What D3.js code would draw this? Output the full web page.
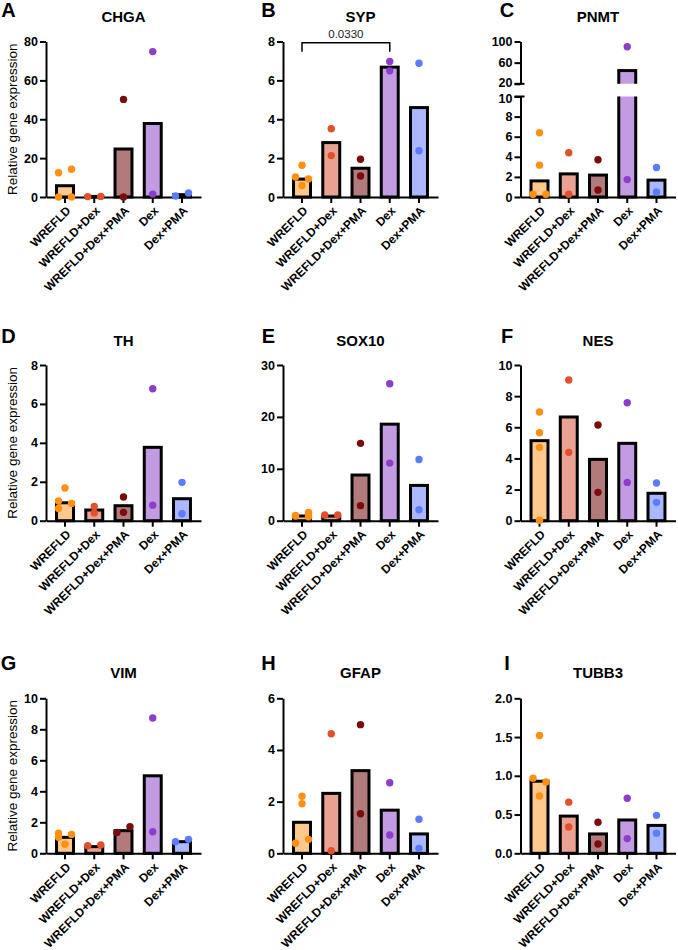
<!DOCTYPE html>
<html><head><meta charset="utf-8">
<script src="https://cdn.jsdelivr.net/npm/d3@7"></script>
<style>body{margin:0;background:#fff}svg{display:block}text{font-family:"Liberation Sans",Arial,sans-serif}</style>
</head><body>
<script>
const groups = ["WREFLD","WREFLD+Dex","WREFLD+Dex+PMA","Dex","Dex+PMA"];
const fillColors = ["#FFC88C","#E9A291","#B27B7B","#C39BE2","#AAB9FF"];
const dotColors = ["#FF9012","#E1502B","#7A0C0C","#8C3ECB","#5C7CFF"];
const genes = ["CHGA","SYP","PNMT","TH","SOX10","NES","VIM","GFAP","TUBB3"];
const letters = ["A","B","C","D","E","F","G","H","I"];
const yTitle = "Relative gene expression";

const barCHGA = [5.8, 0.3, 24.7, 37.8, 1.2];
const ptsCHGA = [[12.5,14.3,0,0],[0.2,0.3],[50.2,0],[74.8,1.5],[0.5,2.1]];
const ticksCHGA = [0,20,40,60,80];

const barSYP = [0.92, 2.8, 1.48, 6.68, 4.6];
const ptsSYP = [[1.63,1.03,0.93,0.59],[3.51,2.13],[1.94,1.08],[6.97,6.49],[6.88,2.38]];
const ticksSYP = [0,2,4,6,8];

const barPNMT = [1.6, 2.3, 2.18, 45, 1.68];
const ptsPNMT = [[6.4,3.17,0.27,0.27],[4.4,0.27],[3.7,0.7],[90,1.73],[2.93,0.5]];
const ticksPNMTlow = [0,2,4,6,8,10];
const ticksPNMThigh = [20,60,100];

const barTH = [0.92, 0.55, 0.77, 3.77, 1.13];
const ptsTH = [[1.68,1.01,0.89,0.63],[0.73,0.40],[1.22,0.43],[6.78,0.8],[1.97,0.36]];
const ticksTH = [0,2,4,6,8];

const barSOX10 = [0.9, 0.9, 8.8, 18.6, 6.8];
const ptsSOX10 = [[0.9,1.6,1.0,0.75],[1.1,1.1],[14.9,2.9],[26.4,11.1],[11.8,2.1]];
const ticksSOX10 = [0,10,20,30];

const barNES = [5.14, 6.66, 3.94, 4.97, 1.76];
const ptsNES = [[6.98,5.65,4.71,0.03],[9.04,4.39],[6.15,1.82],[7.58,2.46],[2.42,1.18]];
const ticksNES = [0,2,4,6,8,10];

const barVIM = [1.03, 0.43, 1.46, 5.0, 0.75];
const ptsVIM = [[1.29,1.22,1.03,0.58],[0.49,0.54],[1.35,1.72],[8.73,1.39],[0.75,0.9]];
const ticksVIM = [0,2,4,6,8,10];

const barGFAP = [1.2, 2.32, 3.2, 1.67, 0.75];
const ptsGFAP = [[2.21,1.92,0.39,0.54],[4.63,0.1],[4.98,1.53],[2.73,0.71],[1.32,0.19]];
const ticksGFAP = [0,2,4,6];

const barTUBB3 = [0.93, 0.48, 0.25, 0.43, 0.36];
const ptsTUBB3 = [[1.52,0.97,0.92,0.74],[0.66,0.34],[0.4,0.12],[0.71,0.19],[0.49,0.26]];
const ticksTUBB3 = [0,0.5,1.0,1.5,2.0];

const sigLabel = "0.0330";

const panels = [
  {bars:barCHGA, pts:ptsCHGA, ticks:ticksCHGA},
  {bars:barSYP, pts:ptsSYP, ticks:ticksSYP, sig:[0,3,sigLabel]},
  {bars:barPNMT, pts:ptsPNMT, ticks:ticksPNMTlow, upperTicks:ticksPNMThigh},
  {bars:barTH, pts:ptsTH, ticks:ticksTH},
  {bars:barSOX10, pts:ptsSOX10, ticks:ticksSOX10},
  {bars:barNES, pts:ptsNES, ticks:ticksNES},
  {bars:barVIM, pts:ptsVIM, ticks:ticksVIM},
  {bars:barGFAP, pts:ptsGFAP, ticks:ticksGFAP},
  {bars:barTUBB3, pts:ptsTUBB3, ticks:ticksTUBB3, fmt:".1f"}
];

const W = 678, H = 950;
const svg = d3.select("body").append("svg").attr("width", W).attr("height", H);
const colX = [46, 283, 520.5];
const rowTop = [41.5, 365, 698.3];
const rowBot = [197, 520.7, 853.3];
const letterX = [8.5, 268.5, 507];
const letterY = [17, 343, 670];
const titleY = [21.5, 345.5, 677.5];
const R = 3.7, DX = 6.5;
const FONT = '"Liberation Sans", Arial, sans-serif';

panels.forEach((p, i) => {
  const col = i % 3, row = Math.floor(i / 3);
  const ox = colX[col], top = rowTop[row], bot = rowBot[row];
  const g = svg.append("g");
  const fmt = p.fmt ? d3.format(p.fmt) : d3.format("d");
  const x = d3.scaleBand().domain(groups).range([ox, ox + 155]).paddingInner(0.42).paddingOuter(0.36);
  const cx = k => x(groups[k]) + x.bandwidth() / 2;

  let segs;
  if (p.upperTicks) {
    const upperH = 42.3, gap = 12.7;
    const lowTop = top + upperH + gap;
    segs = [
      {y: d3.scaleLinear().domain(d3.extent(p.ticks)).range([bot, lowTop]), ticks: p.ticks, clip: [lowTop, bot + 30], upper: false, nudge: 1.5},
      {y: d3.scaleLinear().domain(d3.extent(p.upperTicks)).range([top + upperH, top]), ticks: p.upperTicks, clip: [0, top + upperH], upper: true, nudge: -1.5}
    ];
  } else {
    segs = [{y: d3.scaleLinear().domain(d3.extent(p.ticks)).range([bot, top]), ticks: p.ticks, clip: [0, bot + 30], upper: false, nudge: 0}];
  }
  const segFor = v => (segs.length > 1 && v > segs[0].y.domain()[1]) ? segs[1] : segs[0];

  // bars
  segs.forEach((s, si) => {
    const id = "clip" + i + "_" + si;
    svg.append("clipPath").attr("id", id).append("rect")
      .attr("x", 0).attr("width", W).attr("y", s.clip[0]).attr("height", s.clip[1] - s.clip[0]);
    const [d0, d1] = s.y.domain();
    const bg = g.append("g").attr("clip-path", `url(#${id})`);
    p.bars.forEach((v, k) => {
      if (v <= d0) return;
      const yt = v > d1 ? s.y(d1) - 10 : s.y(v);
      const yb = s.upper ? s.y(d0) + 10 : s.y(d0);
      bg.append("rect").attr("x", x(groups[k])).attr("width", x.bandwidth())
        .attr("y", yt).attr("height", yb - yt)
        .attr("fill", fillColors[k]).attr("stroke", "#000").attr("stroke-width", 3);
    });
  });

  // y axes
  segs.forEach(s => {
    const [d0, d1] = s.y.domain();
    const ax = g.append("g").attr("transform", `translate(${ox},0)`)
      .call(d3.axisLeft(s.y).tickValues(s.ticks).tickSize(6).tickSizeOuter(0).tickPadding(2).tickFormat(fmt));
    ax.select(".domain").attr("stroke-width", 2);
    ax.selectAll(".tick line").attr("stroke-width", 2);
    ax.selectAll(".tick text").attr("font-size", 12.5).attr("font-weight", "bold").attr("fill", "#000")
      .style("font-family", FONT)
      .attr("y", d => (s.nudge > 0 && d === d1) || (s.nudge < 0 && d === d0) ? s.nudge : 0);
  });
  if (segs.length > 1) {
    [segs[0].y.range()[1], segs[1].y.range()[0]].forEach(yy => {
      g.append("line").attr("x1", ox - 6).attr("x2", ox + 4).attr("y1", yy).attr("y2", yy)
        .attr("stroke", "#000").attr("stroke-width", 2);
    });
  }

  // x axis
  const xa = g.append("g").attr("transform", `translate(0,${bot})`)
    .call(d3.axisBottom(x).tickSize(6).tickSizeOuter(0));
  xa.select(".domain").attr("stroke-width", 2);
  xa.selectAll(".tick line").attr("stroke-width", 2);
  xa.selectAll(".tick text").attr("font-size", 12).attr("font-weight", "bold").attr("fill", "#000")
    .style("font-family", FONT)
    .attr("x", 0).attr("y", 0).attr("dy", "0.35em")
    .attr("text-anchor", "end").attr("transform", "translate(3.5,11.5) rotate(-45)");

  // points with simple dodge
  p.pts.forEach((vals, k) => {
    const items = vals.map((v, j) => ({v, j, py: segFor(v).y(v), off: 0}));
    const sorted = items.slice().sort((a, b) => a.py - b.py);
    const chains = [];
    sorted.forEach((it, n) => {
      if (n > 0 && it.py - sorted[n - 1].py < 6.2) chains[chains.length - 1].push(it);
      else chains.push([it]);
    });
    chains.forEach(c => {
      if (c.length < 2) return;
      c.sort((a, b) => a.j - b.j).forEach((it, m) => { it.off = m % 2 === 0 ? -DX : DX; });
    });
    items.forEach(it => {
      g.append("circle").attr("cx", cx(k) + it.off).attr("cy", it.py).attr("r", R)
        .attr("fill", dotColors[k]);
    });
  });

  // significance bracket
  if (p.sig) {
    const [a, b, lab] = p.sig;
    const yb = top + 1.2, yl = top + 10.2;
    g.append("path").attr("d", `M${cx(a)},${yl}V${yb}H${cx(b)}V${yl}`)
      .attr("fill", "none").attr("stroke", "#000").attr("stroke-width", 1.5);
    g.append("text").attr("x", (cx(a) + cx(b)) / 2).attr("y", yb - 4.5).attr("text-anchor", "middle")
      .attr("font-size", 11.5).attr("fill", "#222").text(lab);
  }

  // titles & letters
  g.append("text").attr("x", cx(2)).attr("y", titleY[row]).attr("text-anchor", "middle")
    .attr("font-size", 15).attr("font-weight", "bold").text(genes[i]);
  g.append("text").attr("x", letterX[col]).attr("y", letterY[row]).attr("text-anchor", "middle")
    .attr("font-size", 20).attr("font-weight", "bold").text(letters[i]);
  if (col === 0) {
    g.append("text").attr("transform", `translate(12,${(top + bot) / 2}) rotate(-90)`)
      .attr("text-anchor", "middle").attr("dominant-baseline", "central")
      .attr("font-size", 13.5).text(yTitle);
  }
});
</script>
</body></html>
